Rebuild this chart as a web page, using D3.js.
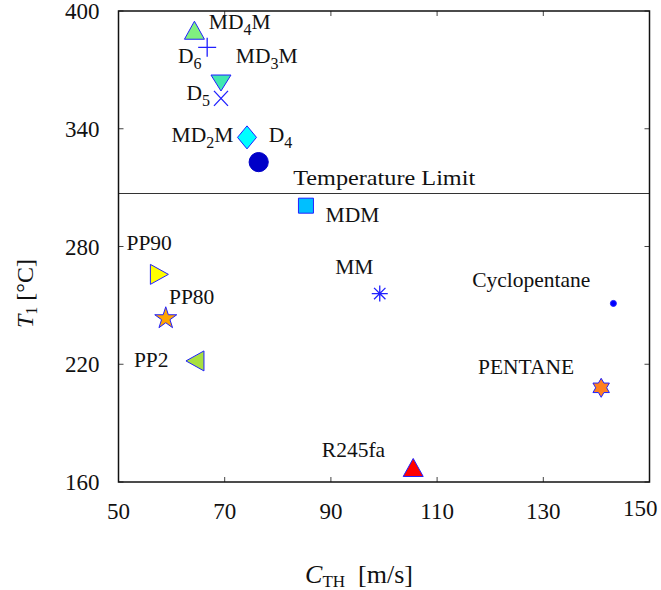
<!DOCTYPE html>
<html>
<head>
<meta charset="utf-8">
<script src="https://cdn.jsdelivr.net/npm/d3@7"></script>
<style>
  body { margin: 0; background: #fff; }
  text { font-family: "Liberation Serif", "DejaVu Serif", serif; fill: #111; }
</style>
</head>
<body>
<div id="chart"></div>
<script>
// Data
const fluids = ["MD4M", "D6", "MD3M", "D5", "MD2M", "D4", "MDM", "PP90", "PP80", "PP2", "MM", "Cyclopentane", "PENTANE", "R245fa"];
const speed  = [64.3, 66.7, 69.3, 69.3, 74.2, 76.4, 85.3, 57.7, 58.9, 64.4, 99.2, 143.2, 140.9, 105.5];
const temp   = [390.2, 381.5, 363.3, 355.5, 335.6, 323.0, 300.8, 265.8, 243.4, 221.7, 256.0, 251.0, 208.0, 167.4];

// label anchors (data units, left / baseline)
const labelX = [67.0, 61.2, 72.1, 62.8, 60.0, 78.3, 89.0, 51.5, 59.5, 52.9, 90.8, 116.6, 117.7, 88.3];
const labelY = [390.7, 373.4, 373.4, 354.6, 333.4, 333.4, 292.6, 278.2, 250.7, 218.6, 266.1, 259.3, 215.0, 172.5];

const tempLimit = 307;
const xTicks = [50, 70, 90, 110, 130, 150];
const yTicks = [160, 220, 280, 340, 400];

// Marker look per fluid
const style = {
  "MD4M":         { shape: "triUp",    fill: "#80f080" },
  "D6":           { shape: "plus",     fill: "none" },
  "MD3M":         { shape: "triDown",  fill: "#40e8b0" },
  "D5":           { shape: "xmark",    fill: "none" },
  "MD2M":         { shape: "diamond",  fill: "#00ffff" },
  "D4":           { shape: "circle",   fill: "#0000c8" },
  "MDM":          { shape: "square",   fill: "#00bfff" },
  "PP90":         { shape: "triRight", fill: "#ffff00" },
  "PP80":         { shape: "star",     fill: "#ffa500" },
  "PP2":          { shape: "triLeft",  fill: "#a8e040" },
  "MM":           { shape: "asterisk", fill: "none" },
  "Cyclopentane": { shape: "dot",      fill: "#0000ff" },
  "PENTANE":      { shape: "hexagram", fill: "#ff8020" },
  "R245fa":       { shape: "triUp",    fill: "#ff0000" }
};

const W = 661, H = 590;
const margin = { top: 11, right: 11.5, bottom: 108, left: 118.5 };
const w = W - margin.left - margin.right;
const h = H - margin.top - margin.bottom;

const svg = d3.select("#chart").append("svg")
  .attr("width", W)
  .attr("height", H);

const g = svg.append("g").attr("transform", `translate(${margin.left},${margin.top})`);

const x = d3.scaleLinear().domain([50, 150]).range([0, w]);
const y = d3.scaleLinear().domain([160, 400]).range([h, 0]);

// shape paths centred on 0,0
function shapePath(shape) {
  switch (shape) {
    case "triUp":    return "M0,-9L10,9L-10,9Z";
    case "triDown":  return "M-10,-8L10,-8L0,8Z";
    case "triRight": return "M-9,-10L9,0L-9,10Z";
    case "triLeft":  return "M9,-10L-9,0L9,10Z";
    case "diamond":  return "M0,-11.5L9.5,0L0,11.5L-9.5,0Z";
    case "square":   return "M-7.5,-7.5H7.5V7.5H-7.5Z";
    case "circle":   return d3.symbol(d3.symbolCircle, Math.PI * 9.6 * 9.6)();
    case "dot":      return d3.symbol(d3.symbolCircle, Math.PI * 3 * 3)();
    case "plus":     return "M-9,0H9M0,-9.5V9.5";
    case "xmark":    return "M-7,-7.5L7,7.5M-7,7.5L7,-7.5";
    case "asterisk": return "M-8,0H8M0,-8V8M-5.7,-5.7L5.7,5.7M-5.7,5.7L5.7,-5.7";
    case "star":     return d3.symbol(d3.symbolStar, 150)();
    case "hexagram": {
      const R = 9.5, r = R / Math.sqrt(3);
      const pts = d3.range(12).map(i => {
        const a = -Math.PI / 2 + i * Math.PI / 6;
        const rr = i % 2 ? r : R;
        return [rr * Math.cos(a), rr * Math.sin(a)];
      });
      return "M" + pts.map(p => p.join(",")).join("L") + "Z";
    }
  }
}

// frame ticks (inward, mirrored)
const tickLen = 5;
const tickG = g.append("g").attr("stroke", "#444").attr("stroke-width", 1);
xTicks.forEach(t => {
  tickG.append("line").attr("x1", x(t)).attr("x2", x(t)).attr("y1", h).attr("y2", h - tickLen);
  tickG.append("line").attr("x1", x(t)).attr("x2", x(t)).attr("y1", 0).attr("y2", tickLen);
});
yTicks.forEach(t => {
  tickG.append("line").attr("x1", 0).attr("x2", tickLen).attr("y1", y(t)).attr("y2", y(t));
  tickG.append("line").attr("x1", w).attr("x2", w - tickLen).attr("y1", y(t)).attr("y2", y(t));
});

// tick labels (last one pulled inside the page like the original)
const lastX = xTicks[xTicks.length - 1];
g.append("g").selectAll("text").data(xTicks).join("text")
  .attr("x", d => d === lastX ? x(d) + 8 : x(d))
  .attr("y", d => d === lastX ? h + 34 : h + 37)
  .attr("text-anchor", d => d === lastX ? "end" : "middle")
  .style("font-size", "23px")
  .text(d => d);

g.append("g").selectAll("text").data(yTicks).join("text")
  .attr("x", -19)
  .attr("y", d => y(d) + 8)
  .attr("text-anchor", "end")
  .style("font-size", "23px")
  .text(d => d);

// temperature limit line
g.append("line")
  .attr("x1", 0).attr("x2", w)
  .attr("y1", y(tempLimit)).attr("y2", y(tempLimit))
  .attr("stroke", "#333").attr("stroke-width", 1.2);

g.append("text")
  .attr("x", x(82.9))
  .attr("y", y(tempLimit) - 9)
  .attr("textLength", 182)
  .attr("lengthAdjust", "spacingAndGlyphs")
  .style("font-size", "21px")
  .text("Temperature Limit");

// box
g.append("rect")
  .attr("width", w).attr("height", h)
  .attr("fill", "none").attr("stroke", "#111").attr("stroke-width", 1.5);

// markers
g.append("g").selectAll("path").data(fluids).join("path")
  .attr("transform", (d, i) => `translate(${x(speed[i])},${y(temp[i])})`)
  .attr("d", d => shapePath(style[d].shape))
  .attr("fill", d => style[d].fill)
  .attr("stroke", d => d === "D4" ? "#0000c8" : "#2020ff")
  .attr("stroke-width", d => ["plus", "xmark", "asterisk"].includes(style[d].shape) ? 1.3 : 1);

// labels with subscripts (e.g. MD4M, D6)
const labels = g.append("g").selectAll("text").data(fluids).join("text")
  .attr("x", (d, i) => x(labelX[i]))
  .attr("y", (d, i) => y(labelY[i]))
  .style("font-size", "21.5px");

labels.each(function (d) {
  const t = d3.select(this);
  const m = /^(MD|D)(\d)(M?)$/.exec(d);
  if (m) {
    t.append("tspan").text(m[1]);
    t.append("tspan").attr("dy", 6).style("font-size", "16px").text(m[2]);
    if (m[3]) t.append("tspan").attr("dy", -6).text(m[3]);
  } else {
    t.text(d);
  }
});

// axis titles
const xt = svg.append("text")
  .attr("x", margin.left + x(95.3))
  .attr("y", 583)
  .attr("text-anchor", "middle")
  .style("font-size", "26px");
xt.append("tspan").style("font-style", "italic").text("C");
xt.append("tspan").attr("dy", 4).style("font-size", "17px").text("TH");
xt.append("tspan").attr("dy", -4).text("\u00a0\u00a0[m/s]");

const yt = svg.append("text")
  .attr("transform", `translate(33,${margin.top + y(256)}) rotate(-90)`)
  .attr("text-anchor", "middle")
  .style("font-size", "24px");
yt.append("tspan").style("font-style", "italic").text("T");
yt.append("tspan").attr("dy", 4).style("font-size", "16px").text("1");
yt.append("tspan").attr("dy", -4).text(" [\u00b0C]");
</script>
</body>
</html>
